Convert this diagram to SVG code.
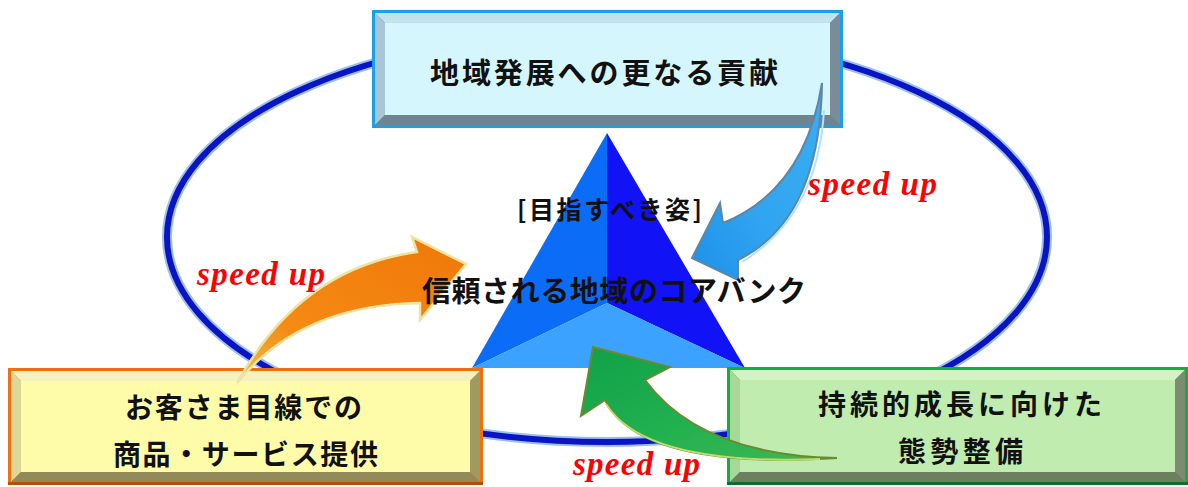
<svg xmlns="http://www.w3.org/2000/svg" width="1188" height="487" viewBox="0 0 1188 487">
<style>
.jp{font-family:"Noto Sans CJK JP","Noto Sans",sans-serif;font-weight:700;fill:#111;}
.su{font-family:"Liberation Serif",serif;font-weight:700;font-style:italic;fill:#ff0000;font-size:33px;}
</style>
<defs>
<linearGradient id="gOr" x1="0" y1="1" x2="1" y2="0">
<stop offset="0" stop-color="#f0c050"/><stop offset="0.3" stop-color="#f58a14"/><stop offset="1" stop-color="#f07808"/>
</linearGradient>
<linearGradient id="gBl" x1="1" y1="0" x2="0" y2="1">
<stop offset="0" stop-color="#3aaef2"/><stop offset="0.6" stop-color="#30a4f0"/><stop offset="1" stop-color="#1c90e8"/>
</linearGradient>
<linearGradient id="gGr" x1="1" y1="1" x2="0" y2="0">
<stop offset="0" stop-color="#40b850"/><stop offset="0.5" stop-color="#20b050"/><stop offset="1" stop-color="#10a048"/>
</linearGradient>
</defs>
<rect width="1188" height="487" fill="#ffffff"/>

<g id="ring">
<ellipse cx="607" cy="237" rx="440" ry="205" fill="none" stroke="#9cc0ec" stroke-width="10"/>
<ellipse cx="607" cy="237" rx="440" ry="205" fill="none" stroke="#0a14c4" stroke-width="6"/>
</g>

<g id="pyramid">
<polygon points="607,133 472,368 607,303" fill="#0b6cf8"/>
<polygon points="607,133 745,368 607,303" fill="#1212f6"/>
<polygon points="472,368 607,303 745,368" fill="#3ca2ff"/>
</g>

<g id="box-top">
<rect x="372" y="10" width="471" height="118" fill="#1aa0e8"/>
<polygon points="375,13 840,13 830,23 385,23" fill="#c4e2ec"/>
<polygon points="375,13 385,23 385,115 375,125" fill="#a8c6d6"/>
<polygon points="840,13 840,125 830,115 830,23" fill="#7a8c98"/>
<polygon points="375,125 385,115 830,115 840,125" fill="#6e8490"/>
<rect x="385" y="23" width="445" height="92" fill="#d4f6fc"/>
<text class="jp" x="430" y="84" font-size="29" textLength="348" lengthAdjust="spacing">地域発展への更なる貢献</text>
</g>

<g id="box-left">
<rect x="8" y="368" width="475" height="117" fill="#f07010"/>
<rect x="8" y="482" width="475" height="3" fill="#b05000"/>
<polygon points="11,371 480,371 470,381 21,381" fill="#f6f2c0"/>
<polygon points="11,371 21,381 21,472 11,482" fill="#dcd898"/>
<polygon points="480,371 480,482 470,472 470,381" fill="#a09a60"/>
<polygon points="11,482 21,472 470,472 480,482" fill="#928a58"/>
<rect x="21" y="381" width="449" height="91" fill="#fefca8"/>
<text class="jp" x="125" y="418" font-size="28" textLength="237" lengthAdjust="spacing">お客さま目線での</text>
<text class="jp" x="113" y="465" font-size="28" textLength="265" lengthAdjust="spacing">商品・サービス提供</text>
</g>

<g id="box-right">
<rect x="727" y="367" width="461" height="118" fill="#10b040"/>
<rect x="727" y="482" width="461" height="3" fill="#0a7030"/>
<polygon points="730,370 1185,370 1175,380 740,380" fill="#d2f4c4"/>
<polygon points="730,370 740,380 740,472 730,482" fill="#a8d898"/>
<polygon points="1185,370 1185,482 1175,472 1175,380" fill="#7c8c70"/>
<polygon points="730,482 740,472 1175,472 1185,482" fill="#6c8060"/>
<rect x="740" y="380" width="435" height="92" fill="#c0ecb0"/>
<text class="jp" x="818" y="415" font-size="28" textLength="284" lengthAdjust="spacing">持続的成長に向けた</text>
<text class="jp" x="898" y="462" font-size="28" textLength="125" lengthAdjust="spacing">態勢整備</text>
</g>

<g id="connectors">
<path d="M237,383 Q300,268 417,252 L412,237 L466,264 L420,320 L420,303 Q300,305 237,383 Z" fill="url(#gOr)" stroke="#ece4a0" stroke-width="2.5" stroke-linejoin="miter"/>
<path d="M822,83 Q805,190 723,223 L720,203 L692,258 L738,280 L738,260 Q820,220 822,83 Z" fill="url(#gBl)" stroke="#5f86a4" stroke-width="2"/>
<path d="M824,110 Q818,215 742,262" fill="none" stroke="#b0e2ff" stroke-width="2"/>
<path d="M837,458 Q700,455 645,380 L670,367 L593,347 L581,416 L605,400 Q640,470 837,458 Z" fill="url(#gGr)" stroke="#6a8a30" stroke-width="2"/>
<path d="M606,404 Q645,466 820,459" fill="none" stroke="#b8e070" stroke-width="2"/>
</g>

<g id="labels">
<text class="jp" x="517" y="219" font-size="25" textLength="185" lengthAdjust="spacing">[目指すべき姿]</text>
<text class="jp" x="422" y="302" font-size="29" textLength="384" lengthAdjust="spacing">信頼される地域のコアバンク</text>
<text class="su" x="808" y="195" textLength="129" lengthAdjust="spacing">speed up</text>
<text class="su" x="197" y="285" textLength="128" lengthAdjust="spacing">speed up</text>
<text class="su" x="573" y="475" textLength="127" lengthAdjust="spacing">speed up</text>
</g>
</svg>
